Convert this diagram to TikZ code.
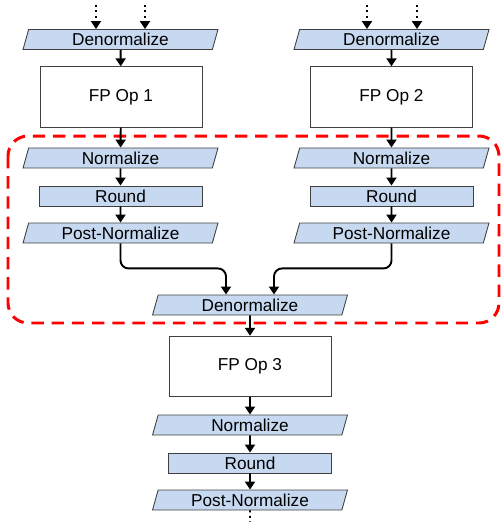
\documentclass[tikz,border=0pt]{standalone}
\usepackage{fontspec}
\setmainfont{Liberation Sans}
\usetikzlibrary{shapes.geometric,arrows.meta,calc}
\definecolor{stagefill}{RGB}{198,217,240}
\tikzset{
  stagetext/.style={font=\fontsize{9.8pt}{11pt}\selectfont},
  convbox/.style={trapezium,trapezium left angle=66,trapezium right angle=114,trapezium stretches body,
    draw=black!75,line width=0.5pt,fill=stagefill,minimum width=3.9cm,minimum height=0.4cm,inner sep=0pt,stagetext},
  roundbox/.style={rectangle,draw=black!75,line width=0.5pt,fill=stagefill,minimum width=3.26cm,minimum height=0.4cm,inner sep=0pt,stagetext},
  opbox/.style={rectangle,draw=black!75,line width=0.5pt,fill=white,minimum width=3.24cm,minimum height=1.21cm,inner sep=0pt,stagetext},
  flow/.style={line width=1.1pt,-{Triangle[width=0.2cm,length=0.16cm]}},
}
\begin{document}
\begin{tikzpicture}[x=0.02cm,y=-0.02cm]
\useasboundingbox (0,0) rectangle (503,522);

\draw[red,line width=1.7pt,dash pattern=on 7pt off 4.5pt,rounded corners=0.4cm] (8,136) rectangle (499,323);

\node[convbox] (den1) at (120.5,39.5) {Denormalize};
\node[opbox] (op1) at (121,97) {FP Op 1};
\node[convbox] (norm1) at (120.5,158) {Normalize};
\node[roundbox] (round1) at (120.5,196) {Round};
\node[convbox] (post1) at (120.5,233) {Post-Normalize};

\node[convbox] (den2) at (391.5,39.5) {Denormalize};
\node[opbox] (op2) at (391.5,97) {FP Op 2};
\node[convbox] (norm2) at (391.5,158) {Normalize};
\node[roundbox] (round2) at (391.5,196) {Round};
\node[convbox] (post2) at (391.5,233) {Post-Normalize};

\node[convbox] (den3) at (250,305) {Denormalize};
\node[opbox] (op3) at (250,366.5) {FP Op 3};
\node[convbox] (norm3) at (250,425) {Normalize};
\node[roundbox] (round3) at (250,463) {Round};
\node[convbox] (post3) at (250,500) {Post-Normalize};

\coordinate (in1a) at (96,5);
\coordinate (in1b) at (145,5);
\coordinate (in2a) at (367,5);
\coordinate (in2b) at (417,5);
\coordinate (out3) at (250,522);
\draw[flow,dotted] (in1a) -- (in1a |- den1.north);
\draw[flow,dotted] (in1b) -- (in1b |- den1.north);
\draw[flow,dotted] (in2a) -- (in2a |- den2.north);
\draw[flow,dotted] (in2b) -- (in2b |- den2.north);

\draw[flow] (den1) -- (op1);
\draw[flow] (op1) -- (norm1);
\draw[flow] (norm1) -- (round1);
\draw[flow] (round1) -- (post1);
\draw[flow] (den2) -- (op2);
\draw[flow] (op2) -- (norm2);
\draw[flow] (norm2) -- (round2);
\draw[flow] (round2) -- (post2);

\draw[flow,rounded corners=0.16cm] (post1.south) -- ++(0,25) -| ($(den3.north)+(-24,0)$);
\draw[flow,rounded corners=0.16cm] (post2.south) -- ++(0,25) -| ($(den3.north)+(24,0)$);

\draw[flow] (den3) -- (op3);
\draw[flow] (op3) -- (norm3);
\draw[flow] (norm3) -- (round3);
\draw[flow] (round3) -- (post3);
\draw[line width=1.1pt,dotted] (post3.south) -- (out3);
\end{tikzpicture}
\end{document}
